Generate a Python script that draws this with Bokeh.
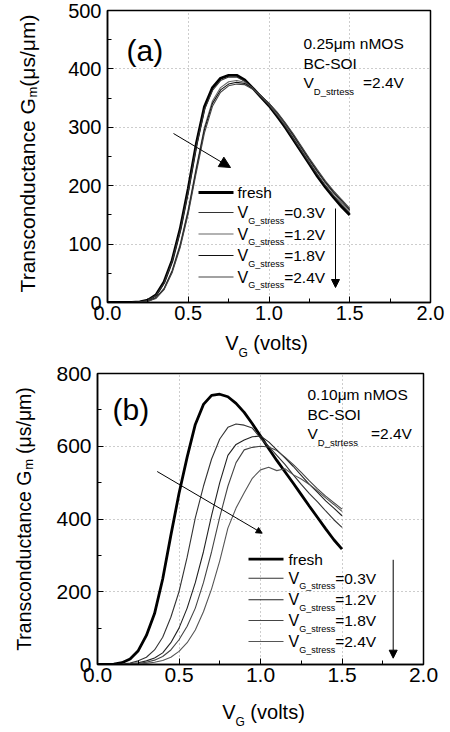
import math
from bokeh.plotting import figure
from bokeh.models import Range1d, FixedTicker, PrintfTickFormatter, Label, Arrow, NormalHead
from bokeh.layouts import column, row
from bokeh.embed import file_html
from bokeh.resources import INLINE

# ---------------- data ----------------
VG = [0.00, 0.05, 0.10, 0.15, 0.20, 0.25, 0.30, 0.35, 0.40, 0.45, 0.50,
      0.55, 0.60, 0.65, 0.70, 0.75, 0.80, 0.85, 0.90, 0.95, 1.00,
      1.05, 1.10, 1.15, 1.20, 1.25, 1.30, 1.35, 1.40, 1.45, 1.50]

# panel (a) 0.25um nMOS
A_FRESH = [0, 0, 0, 0.2, 1, 4, 13, 35, 72, 126, 195, 272, 335, 368, 384, 389, 389, 381, 367, 352, 337,
           319, 300, 279, 258, 237, 216, 197, 180, 164, 150]
A_S03 = [0, 0, 0, 0.2, 1, 4, 12, 33, 70, 122, 190, 267, 330, 363, 380, 386, 386, 379, 366, 352, 338,
         321, 302, 281, 260, 239, 219, 200, 183, 168, 154]
A_S12 = [0, 0, 0, 0, 0.5, 2, 8, 24, 55, 100, 160, 232, 300, 345, 368, 378, 380, 377, 367, 354, 340,
         323, 305, 285, 264, 243, 223, 204, 187, 171, 157]
A_S18 = [0, 0, 0, 0, 0.5, 2, 8, 23, 53, 97, 156, 228, 296, 341, 364, 374, 377, 375, 366, 354, 341,
         325, 307, 287, 266, 245, 225, 206, 189, 174, 159]
A_S24 = [0, 0, 0, 0, 0.4, 2, 7, 22, 51, 94, 152, 223, 290, 336, 360, 371, 374, 373, 365, 354, 341,
         326, 308, 289, 268, 247, 227, 208, 191, 176, 161]

# panel (b) 0.10um nMOS
B_FRESH = [0, 0, 1, 5, 15, 38, 80, 140, 235, 355, 470, 570, 660, 715, 740, 743, 736, 718, 693, 662, 628,
           594, 561, 530, 499, 467, 435, 404, 373, 343, 317]
B_S03 = [0, 0, 0, 1, 4, 10, 20, 40, 75, 130, 200, 295, 403, 490, 565, 620, 652, 661, 658, 650, 622,
         600, 575, 550, 522, 495, 470, 447, 422, 398, 377]
B_S12 = [0, 0, 0, 0, 2, 5, 10, 18, 32, 60, 100, 155, 225, 310, 410, 500, 575, 605, 617, 626, 628,
         612, 590, 568, 545, 520, 495, 473, 450, 430, 409]
B_S18 = [0, 0, 0, 0, 1, 3, 6, 12, 22, 40, 68, 105, 155, 225, 310, 405, 490, 555, 590, 597, 600,
         598, 588, 570, 550, 528, 505, 483, 463, 445, 427]
B_S24 = [0, 0, 0, 0, 0, 1, 3, 6, 11, 20, 36, 60, 95, 145, 208, 285, 375, 430, 472, 512, 535,
         542, 533, 538, 522, 510, 495, 477, 458, 440, 421]

STRESS_LABELS = ["=0.3V", "=1.2V", "=1.8V", "=2.4V"]
X_TICKS = [0.0, 0.5, 1.0, 1.5, 2.0]
X_MINOR = [0.25, 0.75, 1.25, 1.75]
A_Y_TICKS = [0, 100, 200, 300, 400, 500]
A_Y_MINOR = [50, 150, 250, 350, 450]
B_Y_TICKS = [0, 200, 400, 600, 800]
B_Y_MINOR = [100, 300, 500, 700]

FONT = "Liberation Sans"
W_PAGE = 450
YLAB_W = 45

AW = {' ': 278, '(': 333, ')': 333, '.': 278, '=': 584, '/': 278, '_': 556, '-': 333,
      'A': 667, 'B': 667, 'C': 722, 'D': 722, 'G': 778, 'M': 833, 'O': 778, 'S': 667,
      'I': 278, 'T': 611, 'V': 667, 'a': 556, 'c': 500, 'd': 556, 'e': 556, 'f': 278,
      'h': 556, 'i': 222, 'l': 222, 'm': 833, 'n': 556, 'o': 556, 'r': 333, 's': 500,
      't': 278, 'u': 556, 'v': 500, 'μ': 576}


def tw(s, size):
    return sum(AW.get(ch, 556) for ch in s) * size / 1000.0


def total_len(parts):
    return sum(tw(t, s) + g for t, s, d, g in parts)


def runs(p, conv, x, y, parts, angle=0.0):
    pos = 0.0
    for text, size, dy, gap in parts:
        pos += gap
        if angle == 0:
            px, py = x + pos, y + dy
        else:
            px, py = x + dy, y - pos
        xd, yd = conv(px, py)
        p.add_layout(Label(x=xd, y=yd, text=text, text_font=FONT,
                           text_font_size=f"{size}px", text_baseline="middle",
                           text_align="left", angle=angle, text_color="black"))
        pos += tw(text, size)


def blank_fig(x0, y0, w, h, fx0, fx1):
    """A figure without axes; its frame spans page x fx0..fx1, data units = page pixels."""
    p = figure(width=w, height=h, output_backend="svg", toolbar_location=None,
               x_range=Range1d(fx0, fx1), y_range=Range1d(y0 + h, y0),
               x_axis_type=None, y_axis_type=None, min_border=0,
               min_border_left=fx0 - x0, min_border_right=x0 + w - fx1,
               min_border_top=0, min_border_bottom=0)
    p.outline_line_color = None
    p.background_fill_color = "white"
    p.border_fill_color = "white"
    p.grid.visible = False
    return p


def make_main(fr, origin, size, yr, yticks, yminor, tick_fs):
    ox, oy = origin
    w, h = size
    p = figure(width=w, height=h, output_backend="svg", toolbar_location=None,
               x_range=Range1d(0, 2), y_range=Range1d(*yr),
               min_border_left=fr["left"] - ox, min_border_right=ox + w - fr["right"],
               min_border_top=fr["top"] - oy, min_border_bottom=oy + h - fr["bottom"])
    p.background_fill_color = "white"
    p.border_fill_color = "white"
    p.outline_line_color = "black"
    p.outline_line_width = 1.5
    p.xaxis.ticker = FixedTicker(ticks=X_TICKS, minor_ticks=X_MINOR)
    p.xaxis.formatter = PrintfTickFormatter(format="%.1f")
    p.yaxis.ticker = FixedTicker(ticks=yticks, minor_ticks=yminor)
    for ax in (p.xaxis[0], p.yaxis[0]):
        ax.axis_line_color = "black"
        ax.axis_line_width = 1.5
        ax.major_tick_in = 6
        ax.major_tick_out = 0
        ax.minor_tick_in = 4
        ax.minor_tick_out = 0
        ax.major_tick_line_color = "black"
        ax.minor_tick_line_color = "black"
        ax.major_label_text_font = FONT
        ax.major_label_text_font_size = f"{tick_fs}px"
        ax.major_label_text_color = "black"
    p.xaxis.major_label_standoff = 3
    p.yaxis.major_label_standoff = 6
    p.grid.grid_line_color = "#9a9a9a"
    p.grid.grid_line_dash = "1 3"
    p.grid.grid_line_width = 1
    return p


def build(fr, oy, main_h, xlab_h, yr, yticks, yminor, tick_fs, curves, colors, cfg):
    def conv(x, y):
        xd = (x - fr["left"]) / (fr["right"] - fr["left"]) * 2.0
        yd = yr[0] + (fr["bottom"] - y) / (fr["bottom"] - fr["top"]) * (yr[1] - yr[0])
        return xd, yd

    def seg(p, x0, y0, x1, y1, lw=1.0, color="black", head=None):
        a, b = conv(x0, y0)
        c, d = conv(x1, y1)
        p.add_layout(Arrow(x_start=a, y_start=b, x_end=c, y_end=d, line_width=lw,
                           line_color=color, end=head))

    p = make_main(fr, (YLAB_W, oy), (W_PAGE - YLAB_W, main_h), yr, yticks, yminor, tick_fs)
    widths = [2.8, 1.1, 1.1, 1.1, 1.1]
    for g, c, w in zip(curves, colors, widths):
        p.line(VG, g, line_width=w, line_color=c)

    runs(p, conv, cfg["letter_xy"][0], cfg["letter_xy"][1], [(cfg["letter"], 30, 0, 0)])
    ix, iy = cfg["info_xy"]
    runs(p, conv, ix, iy, [(cfg["device"], 15.5, 0, 0)])
    runs(p, conv, ix, iy + 20, [("BC-SOI", 15.5, 0, 0)])
    runs(p, conv, ix, iy + 39, [("V", 15.5, 0, 0), ("D_strtess", 9.5, 8.5, 0),
                                ("=2.4V", 15.5, 0, cfg["eq_gap"])])
    kx0, kx1, tx = cfg["key_x"]
    for i, ry in enumerate(cfg["rows"]):
        seg(p, kx0, ry, kx1, ry, lw=widths[i], color=colors[i])
        if i == 0:
            runs(p, conv, tx, ry, [("fresh", 15.5, 0, 0)])
        else:
            runs(p, conv, tx, ry, [("V", 16, 0, 0), ("G_stress", 9, 8, 0),
                                   (STRESS_LABELS[i - 1], 15.5, 0, 0)])
    (ax0, ay0), (ax1, ay1), hs = cfg["trend"]
    seg(p, ax0, ay0, ax1, ay1, lw=1.0,
        head=NormalHead(size=hs, fill_color="black", line_color="black"))
    dx, dy0, dy1 = cfg["down"]
    seg(p, dx, dy0, dx, dy1, lw=1.0,
        head=NormalHead(size=8, fill_color="black", line_color="black"))

    total_h = main_h + xlab_h
    ylf = blank_fig(0, oy, YLAB_W, total_h, 0, YLAB_W)
    yl = cfg["ylabel"]
    ylp = [("Transconductance G", yl["fs"], 0, 0), ("m", 13, 4.5, 0),
           ("(μs/μm)", yl["fs"], 0, yl["gap"])]
    L = total_len(ylp)
    runs(ylf, lambda x, y: (x, y), yl["x"], yl["cy"] + L / 2, ylp, angle=math.pi / 2)

    xlf = blank_fig(YLAB_W, oy + main_h, W_PAGE - YLAB_W, xlab_h, fr["left"], fr["right"])
    xl = cfg["xlabel"]
    xlp = [("V", 20, 0, 0), ("G", 12, 10, 0), ("(volts)", 20, 0, 5.5)]
    L = total_len(xlp)
    runs(xlf, lambda x, y: (x, y), xl["cx"] - L / 2, xl["y"], xlp)

    return row(ylf, column(p, xlf, spacing=0), spacing=0)


FA = dict(left=107, right=430, top=10, bottom=302)
FB = dict(left=97, right=423, top=373, bottom=664)

cfg_a = dict(letter="(a)", letter_xy=(126, 50), device="0.25μm nMOS", info_xy=(303, 43),
             eq_gap=9, key_x=(198, 233, 237), rows=[192, 212, 233.5, 255, 276.5],
             trend=((173, 133), (230, 167), 11), down=(335, 208, 287),
             ylabel=dict(x=27, cy=153, fs=21, gap=0),
             xlabel=dict(cx=266, y=342))
cfg_b = dict(letter="(b)", letter_xy=(112, 408.5), device="0.10μm nMOS", info_xy=(307, 394.3),
             eq_gap=13, key_x=(248, 283, 288), rows=[558.7, 577.7, 599.3, 620, 641],
             trend=((156.7, 471), (261.7, 532.7), 6), down=(392.7, 559.3, 657.7),
             ylabel=dict(x=23.5, cy=518.5, fs=19.5, gap=5),
             xlabel=dict(cx=263, y=711))

block_a = build(FA, 0, 330, 30, (0, 500), A_Y_TICKS, A_Y_MINOR, 20,
                [A_FRESH, A_S03, A_S12, A_S18, A_S24],
                ["black", "#333333", "#666666", "#111111", "#444444"], cfg_a)
block_b = build(FB, 360, 336, 36, (0, 800), B_Y_TICKS, B_Y_MINOR, 21,
                [B_FRESH, B_S03, B_S12, B_S18, B_S24],
                ["black", "#333333", "#222222", "#444444", "#555555"], cfg_b)

layout = column(block_a, block_b, spacing=0)
open("out.html", "w").write(file_html(layout, INLINE))
